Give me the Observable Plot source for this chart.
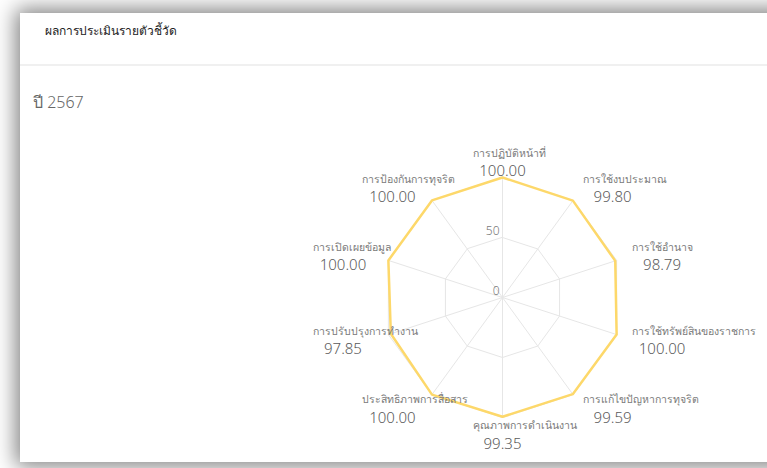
<!DOCTYPE html>
<html>
<head>
<meta charset="utf-8">
<script src="https://cdn.jsdelivr.net/npm/d3@7"></script>
<script src="https://cdn.jsdelivr.net/npm/@observablehq/plot@0.6"></script>
<style>
  html, body { margin: 0; padding: 0; }
  body { width: 767px; height: 468px; overflow: hidden; background: #fff; position: relative;
         font-family: "Noto Sans", "DejaVu Sans", sans-serif; }
  .card { position: absolute; left: 20px; top: 13px; width: 800px; height: 449px; background: #fff;
          box-shadow: 0 0 20px 4px rgba(0,0,0,0.5); }
  .head { position: absolute; left: 0; top: 0; right: 0; height: 51px; border-bottom: 2px solid #f0f0f0; }
  .title { position: absolute; left: 25px; top: 8px; font-size: 12px; color: #222; }
  .year { position: absolute; left: 13px; top: 77px; font-size: 16px; color: #666; font-weight: 300; }
  #chart { position: absolute; left: 217px; top: 114px; }
</style>
</head>
<body>
<div class="card">
  <div class="head"><div class="title">ผลการประเมินรายตัวชี้วัด</div></div>
  <div class="year">ปี 2567</div>
  <div id="chart"></div>
</div>
<script>
const axisNames = [
  "การปฏิบัติหน้าที่",
  "การใช้งบประมาณ",
  "การใช้อำนาจ",
  "การใช้ทรัพย์สินของราชการ",
  "การแก้ไขปัญหาการทุจริต",
  "คุณภาพการดำเนินงาน",
  "ประสิทธิภาพการสื่อสาร",
  "การปรับปรุงการทำงาน",
  "การเปิดเผยข้อมูล",
  "การป้องกันการทุจริต"
];
const scores = [100.00, 99.80, 98.79, 100.00, 99.59, 99.35, 100.00, 97.85, 100.00, 100.00];
const gridLevels = [50, 100];
const tickLabels = [0, 50];
const maxValue = 100;

// layout
const W = 530, H = 340, PX = 1.2;       // pixels per data unit
const labelRadius = 113.5;               // data units
const boxW = 60;                         // px

const n = axisNames.length;
const ang = i => i * 2 * Math.PI / n;
const pt = (i, v) => ({x: v * Math.sin(ang(i)), y: v * Math.cos(ang(i))});

const rings = gridLevels.flatMap(level =>
  d3.range(n).map(i => ({level, ...pt(i, level)})));
const spokes = d3.range(n).map(i => ({...pt(i, maxValue)}));
const series = scores.map((v, i) => ({name: axisNames[i], value: v, ...pt(i, v)}));
const labels = axisNames.map((name, i) => {
  const p = pt(i, labelRadius);
  const s = Math.sin(ang(i));
  const off = Math.abs(s) < 1e-6 ? -boxW / 2 : (s > 0 ? 0 : -boxW);
  return {name, value: scores[i].toFixed(2),
          xn: p.x + off / PX, xv: p.x + (off + boxW / 2) / PX, y: p.y};
});
const ticks = tickLabels.map(t => ({t, x: 0, y: t}));

const chart = Plot.plot({
  width: W, height: H,
  margin: 0,
  x: {domain: [-W / 2 / PX, W / 2 / PX], range: [0, W], axis: null},
  y: {domain: [-H / 2 / PX, H / 2 / PX], range: [H, 0], axis: null},
  style: {fontFamily: "'Noto Sans', 'DejaVu Sans', sans-serif", overflow: "visible", background: "transparent"},
  marks: [
    Plot.line(rings, {x: "x", y: "y", z: "level", curve: "linear-closed", stroke: "#e6e6e6", strokeWidth: 1}),
    Plot.link(spokes, {x1: 0, y1: 0, x2: "x", y2: "y", stroke: "#e6e6e6", strokeWidth: 1}),
    Plot.text(ticks, {x: "x", y: "y", text: d => String(d.t), textAnchor: "end", dx: -3, dy: -6,
                      fill: "#7a7a7a", fontSize: 12, fontWeight: 300}),
    Plot.line(series, {x: "x", y: "y", curve: "linear-closed", stroke: "#fdd86a", strokeWidth: 2.5}),
    Plot.text(labels, {x: "xn", y: "y", text: "name", textAnchor: "start", dy: -8, fill: "#7a7a7a",
                       fontSize: 10.5, fontWeight: 300}),
    Plot.text(labels, {x: "xv", y: "y", text: "value", textAnchor: "middle", dy: 10, fill: "#5a5a5a",
                       fontSize: 15, fontWeight: 300})
  ]
});
document.getElementById("chart").appendChild(chart);
</script>
</body>
</html>
